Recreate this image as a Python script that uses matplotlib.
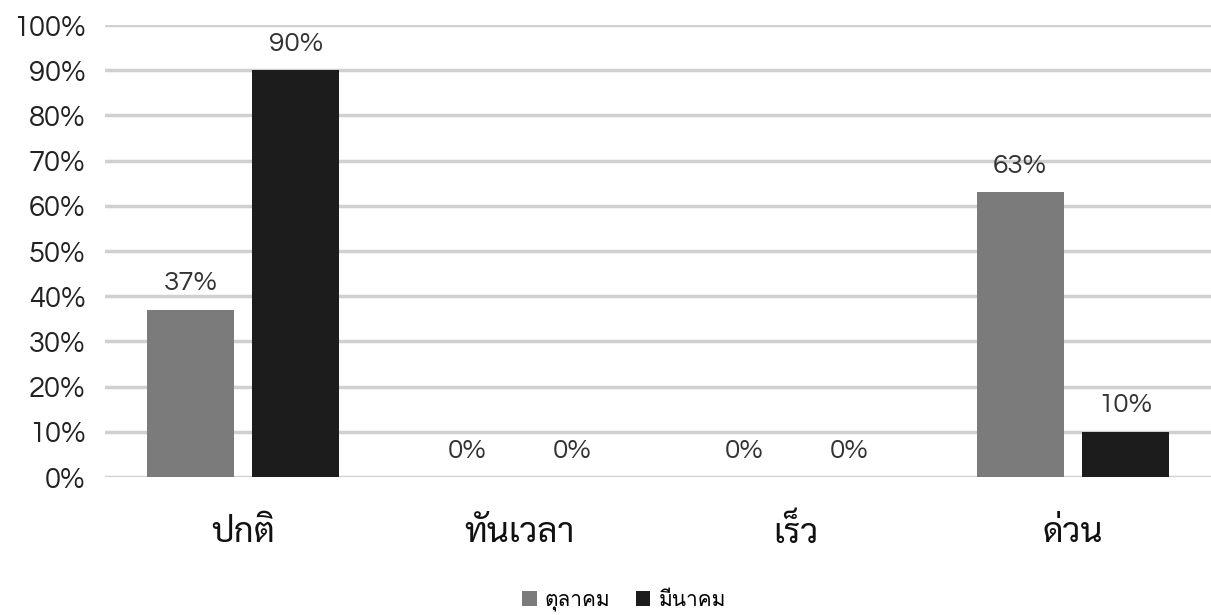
import matplotlib
matplotlib.use('Agg')
import matplotlib.pyplot as plt
import numpy as np

# data
categories = ['ปกติ', 'ทันเวลา', 'เร็ว', 'ด่วน']
series_names = ['ตุลาคม', 'มีนาคม']
october = [37, 0, 0, 63]
march = [90, 0, 0, 10]
y_ticks = [0, 10, 20, 30, 40, 50, 60, 70, 80, 90, 100]

num_font = ['Questrial', 'Didact Gothic', 'Poppins', 'Prompt', 'DejaVu Sans']
thai_font = ['Sarabun', 'Noto Sans Thai', 'DejaVu Sans']
legend_font = ['Loma', 'Sarabun', 'DejaVu Sans']

fig = plt.figure(figsize=(12.11, 6.15), dpi=100)
ax = fig.add_axes([105 / 1211, 1 - 477 / 615, 1 - 105 / 1211, 452 / 615])

x = np.arange(len(categories))
w = 0.315
off = 0.19
colors = ['#7b7b7b', '#1c1c1c']

for vals, dx, c, name in zip([october, march], [-off, off], colors, series_names):
    bars = ax.bar(x + dx, vals, width=w, color=c, label=name, zorder=3)
    for b, v in zip(bars, vals):
        ax.text(b.get_x() + b.get_width() / 2, v + 3.2, f'{v}%', ha='center', va='bottom',
                fontsize=20, color='#333333', family=num_font)

ax.set_xlim(-0.5, 3.5)
ax.set_ylim(0, 100)
ax.set_yticks(y_ticks)
ax.set_yticklabels([f'{t}%' for t in y_ticks], family=num_font, fontsize=21, color='#222222')
ax.set_xticks(x)
ax.set_xticklabels(categories, family=thai_font, fontsize=25, color='#111111')
ax.tick_params(axis='y', length=0, pad=14)
ax.tick_params(axis='x', length=0, pad=28)
ax.grid(axis='y', color='#d0d0d0', linewidth=2.5, zorder=0)
for s in ax.spines.values():
    s.set_visible(False)

fig.legend(loc='center', bbox_to_anchor=(624 / 1211, 1 - 601 / 615), ncol=2, frameon=False,
           prop={'family': legend_font, 'size': 15}, handlelength=0.7, handleheight=0.7,
           handletextpad=0.4, columnspacing=1.2)

fig.savefig('out.png')
